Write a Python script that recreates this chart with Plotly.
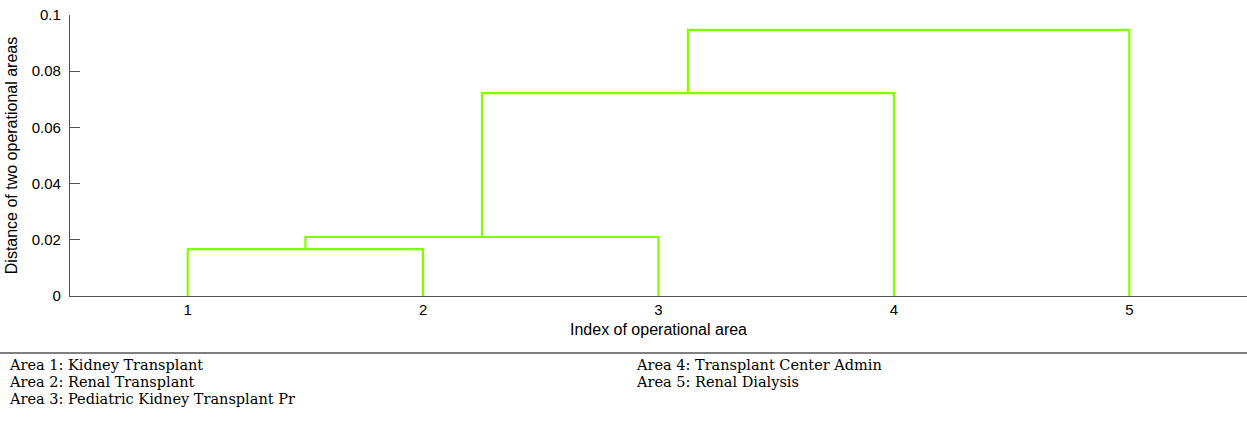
import plotly.graph_objects as go

# dendrogram data (MATLAB style linkage: leaf ids 1..5, new clusters 6..)
leaf_labels = ["1", "2", "3", "4", "5"]
link_left = [1, 6, 7, 8]
link_right = [2, 3, 4, 5]
link_height = [0.0167, 0.0210, 0.0722, 0.0947]

area_names = [
    "Area 1: Kidney Transplant",
    "Area 2: Renal Transplant",
    "Area 3: Pediatric Kidney Transplant Pr",
    "Area 4: Transplant Center Admin",
    "Area 5: Renal Dialysis",
]

green = "#80ff00"

# x / height of every node
pos = {i + 1: (i + 1, 0.0) for i in range(len(leaf_labels))}
xs, ys = [], []
for k, (a, b, h) in enumerate(zip(link_left, link_right, link_height)):
    xa, ha = pos[a]
    xb, hb = pos[b]
    xs += [xa, xa, xb, xb, None]
    ys += [ha, h, h, hb, None]
    pos[len(leaf_labels) + k + 1] = ((xa + xb) / 2, h)

fig = go.Figure()
fig.add_trace(go.Scatter(x=xs, y=ys, mode="lines",
                         line=dict(color=green, width=2.2), hoverinfo="skip"))

fig.update_layout(
    width=1247, height=422,
    margin=dict(l=70, r=0, t=15, b=126, autoexpand=False),
    plot_bgcolor="white", paper_bgcolor="white",
    showlegend=False,
    font=dict(family="Liberation Sans, Arial", size=15, color="black"),
)
fig.update_xaxes(
    range=[0.5, 5.5], tickvals=list(range(1, 6)), ticktext=leaf_labels,
    showgrid=False, zeroline=False, showline=True, linecolor="#555555", linewidth=1.3,
    ticks="", title=dict(text="Index of operational area", standoff=6, font=dict(size=16)),
)
fig.update_yaxes(
    range=[0, 0.1], tickvals=[0, 0.02, 0.04, 0.06, 0.08, 0.1],
    ticktext=["0", "0.02", "0.04", "0.06", "0.08", "0.1"],
    showgrid=False, zeroline=False, showline=True, linecolor="#555555", linewidth=1.3,
    ticks="inside", ticklen=10, tickcolor="#555555", ticklabelstandoff=5,
    title=dict(text="Distance of two operational areas", standoff=10, font=dict(size=16)),
)

# separator line and area legend under the chart
fig.add_shape(type="line", xref="paper", yref="paper",
              x0=-0.06, x1=1, y0=-0.2028, y1=-0.2028,
              line=dict(color="black", width=1.2))

rows = [-0.247, -0.307, -0.366]
cols = [-0.0536, 0.479]
for i, name in enumerate(area_names):
    c = 0 if i < 3 else 1
    r = i if i < 3 else i - 3
    fig.add_annotation(text=name, xref="paper", yref="paper",
                       x=cols[c], y=rows[r], xanchor="left", yanchor="middle",
                       showarrow=False,
                       font=dict(family="DejaVu Serif, Times New Roman", size=14.5, color="black"))

# drop the default page margin so the figure sits at the top-left corner
fig.write_html("out.html", config={"displayModeBar": False},
               post_script="document.body.style.margin='0';")
